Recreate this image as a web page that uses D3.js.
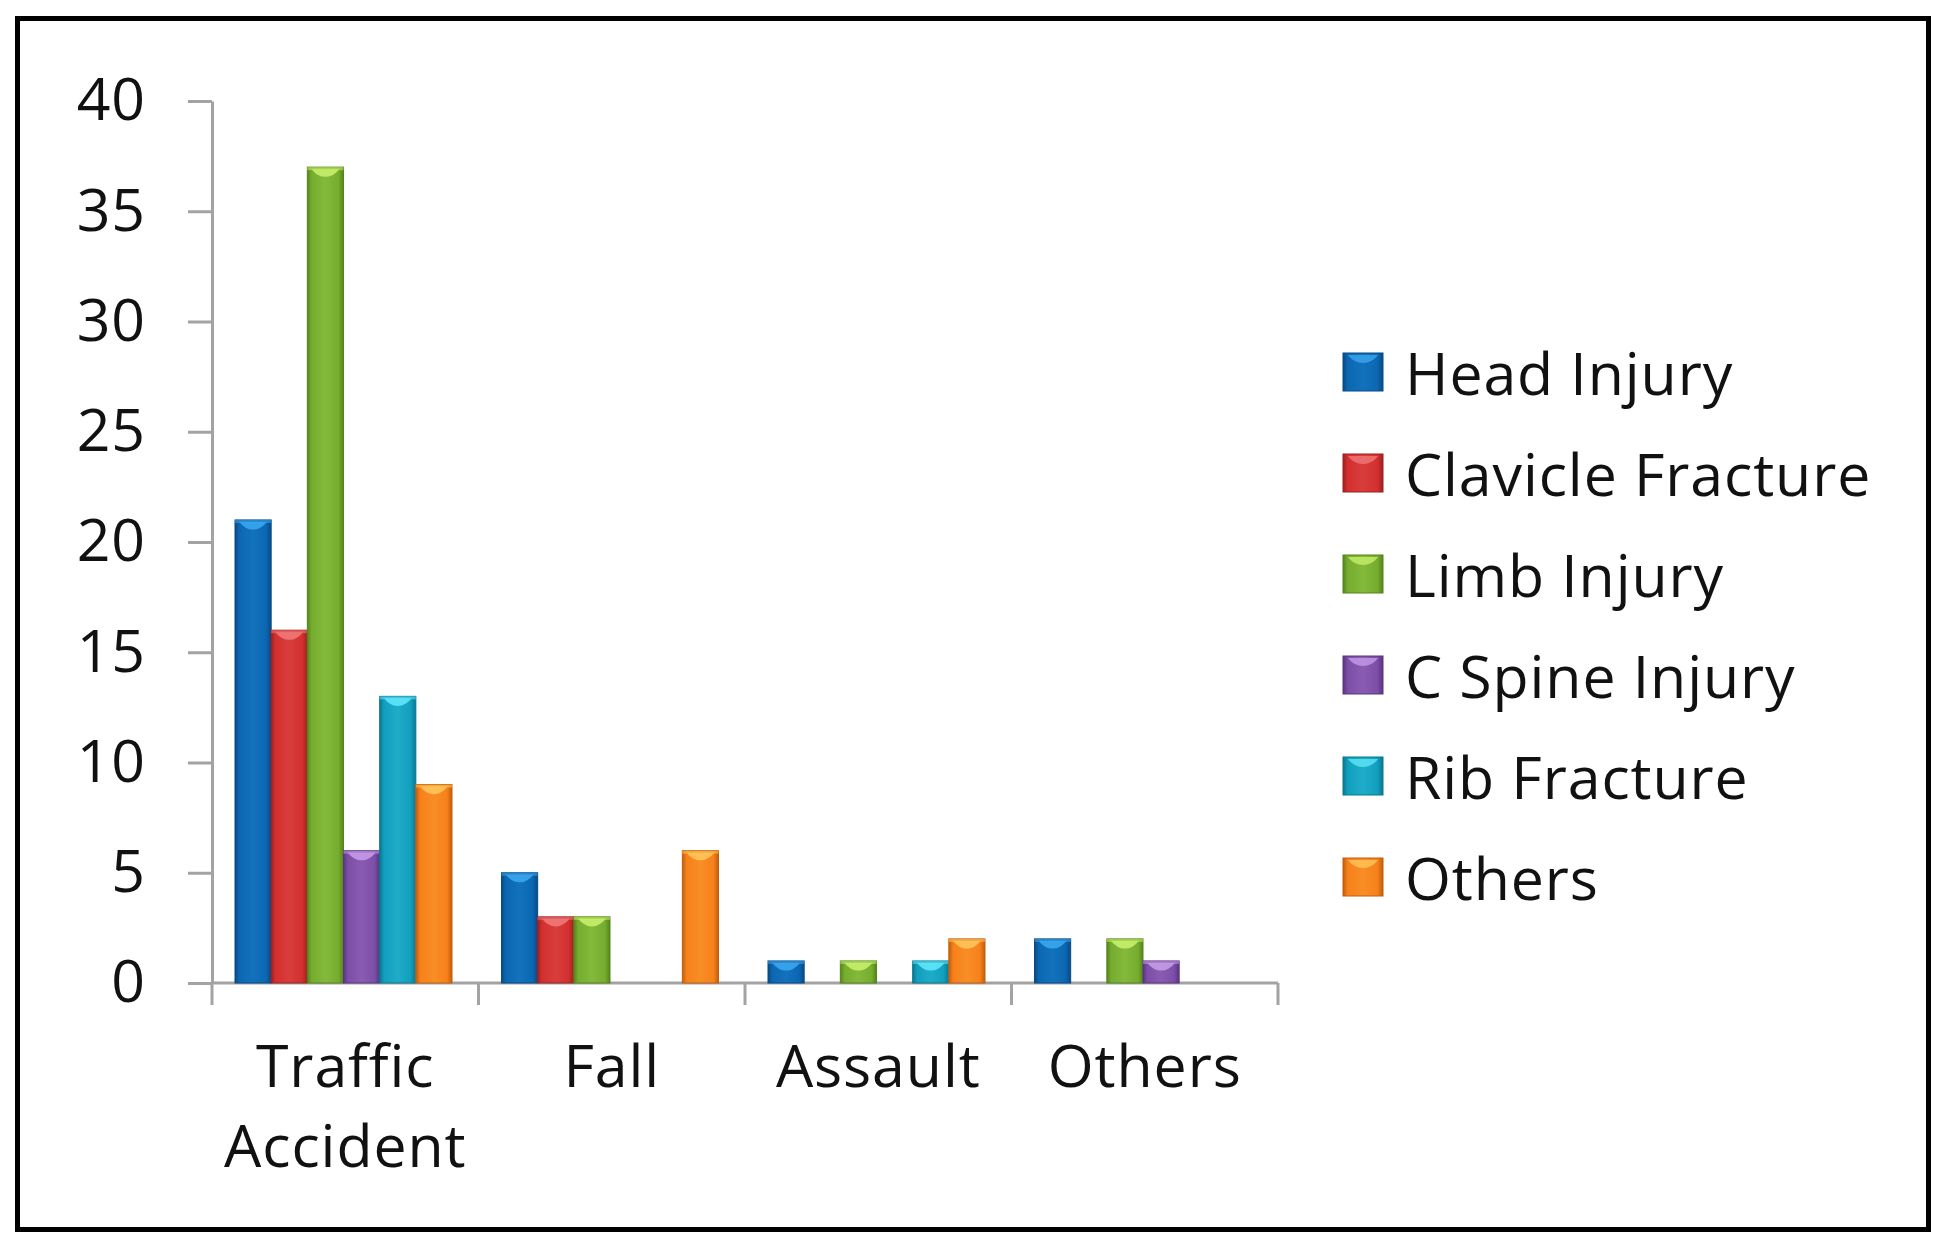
<!DOCTYPE html>
<html>
<head>
<meta charset="utf-8">
<script src="https://cdn.jsdelivr.net/npm/d3@7"></script>
<style>
  html, body { margin: 0; padding: 0; background: #ffffff; }
  svg { display: block; }
  text { font-family: "Open Sans", "Noto Sans", sans-serif; fill: #111111; }
</style>
</head>
<body>
<svg id="chart" width="1953" height="1246"></svg>
<script>
// ---- data ----
const categories = ["Traffic Accident", "Fall", "Assault", "Others"];
const categoryLines = [["Traffic", "Accident"], ["Fall"], ["Assault"], ["Others"]];
const seriesNames = ["Head Injury", "Clavicle Fracture", "Limb Injury", "C Spine Injury", "Rib Fracture", "Others"];
const headInjury       = [21, 5, 1, 2];
const clavicleFracture = [16, 3, 0, 0];
const limbInjury       = [37, 3, 1, 2];
const cSpineInjury     = [6, 0, 0, 1];
const ribFracture      = [13, 0, 1, 0];
const othersInjury     = [9, 6, 2, 0];
const seriesValues = [headInjury, clavicleFracture, limbInjury, cSpineInjury, ribFracture, othersInjury];
const yTicks = [0, 5, 10, 15, 20, 25, 30, 35, 40];

// ---- styles ----
const seriesColors = [
  { base: "#0b67b2", dark: "#094a84", light: "#3aa6ee" },
  { base: "#d3302f", dark: "#9e2020", light: "#f07878" },
  { base: "#76ad2f", dark: "#55841c", light: "#c6ef6a" },
  { base: "#7c4ea6", dark: "#5a3480", light: "#c49be8" },
  { base: "#119fbe", dark: "#0a7791", light: "#5fe6f8" },
  { base: "#f7811a", dark: "#c25e0c", light: "#ffc45a" }
];
const FONT_SIZE = 59;
const LETTER_SP = "0.9px";

const svg = d3.select("#chart");
const defs = svg.append("defs");
seriesColors.forEach((c, i) => {
  const g = defs.append("linearGradient").attr("id", "grad" + i)
    .attr("x1", "0%").attr("x2", "100%").attr("y1", "0%").attr("y2", "0%");
  g.append("stop").attr("offset", "0%").attr("stop-color", c.dark);
  g.append("stop").attr("offset", "12%").attr("stop-color", c.base);
  g.append("stop").attr("offset", "50%").attr("stop-color", d3.interpolateRgb(c.base, c.light)(0.18));
  g.append("stop").attr("offset", "86%").attr("stop-color", c.base);
  g.append("stop").attr("offset", "100%").attr("stop-color", c.dark);
});

// frame
svg.append("rect").attr("x", 17.5).attr("y", 18.5).attr("width", 1911).attr("height", 1211)
  .attr("fill", "none").attr("stroke", "#000").attr("stroke-width", 5);

// scales
const x0 = d3.scaleBand().domain(categories).range([212, 1278]).paddingInner(0).paddingOuter(0);
const x1 = d3.scaleBand().domain(seriesNames).range([23, 240]).padding(0);
const y = d3.scaleLinear().domain([0, 40]).range([983, 101]);

// y axis
const yAxis = svg.append("g").attr("transform", "translate(212,0)")
  .call(d3.axisLeft(y).tickValues(yTicks).tickSizeInner(24).tickSizeOuter(0).tickPadding(42));
yAxis.select(".domain").attr("stroke", "#a3a3a3").attr("stroke-width", 3);
yAxis.selectAll(".tick line").attr("stroke", "#a3a3a3").attr("stroke-width", 3);
yAxis.selectAll(".tick text").attr("font-size", FONT_SIZE).attr("fill", "#111111")
  .attr("letter-spacing", LETTER_SP)
  .attr("font-family", "'Open Sans', sans-serif");

// x axis
const xBoundaries = categories.map(c => x0(c)).concat([x0(categories[categories.length - 1]) + x0.bandwidth()]);
const xAxisG = svg.append("g");
xAxisG.append("line").attr("x1", 212).attr("x2", 1278).attr("y1", y(0)).attr("y2", y(0))
  .attr("stroke", "#a3a3a3").attr("stroke-width", 3);
xAxisG.selectAll("line.xt").data(xBoundaries).enter().append("line").attr("class", "xt")
  .attr("x1", d => d).attr("x2", d => d).attr("y1", y(0)).attr("y2", y(0) + 22)
  .attr("stroke", "#a3a3a3").attr("stroke-width", 3);

// category labels
const catG = svg.append("g");
categories.forEach((c, i) => {
  const t = catG.append("text").attr("x", x0(c) + x0.bandwidth() / 2).attr("y", 1087)
    .attr("text-anchor", "middle").attr("font-size", FONT_SIZE).attr("letter-spacing", LETTER_SP);
  categoryLines[i].forEach((line, j) => {
    t.append("tspan").attr("x", x0(c) + x0.bandwidth() / 2).attr("dy", j === 0 ? 0 : 80).text(line);
  });
});

// bars
function highlightPath(x, top, w) {
  const hh = Math.min(12, 6 + w * 0.1);
  return `M${x + w * 0.12},${top + 2} L${x + w * 0.88},${top + 2} ` +
         `Q${x + w * 0.72},${top + hh} ${x + w * 0.5},${top + hh} ` +
         `Q${x + w * 0.28},${top + hh} ${x + w * 0.12},${top + 2} Z`;
}

const barData = [];
categories.forEach((c, ci) => {
  seriesNames.forEach((s, si) => {
    const v = seriesValues[si][ci];
    if (v > 0) barData.push({ cat: c, series: s, si: si, value: v });
  });
});

const bars = svg.append("g").selectAll("g.bar").data(barData).enter().append("g").attr("class", "bar");
bars.append("rect")
  .attr("x", d => x0(d.cat) + x1(d.series))
  .attr("y", d => y(d.value))
  .attr("width", x1.bandwidth())
  .attr("height", d => y(0) - y(d.value))
  .attr("fill", d => `url(#grad${d.si})`)
  .attr("stroke", d => seriesColors[d.si].dark).attr("stroke-width", 1);
bars.append("rect")
  .attr("x", d => x0(d.cat) + x1(d.series))
  .attr("y", d => y(d.value))
  .attr("width", x1.bandwidth())
  .attr("height", 3)
  .attr("fill", d => seriesColors[d.si].light).attr("opacity", 0.55);
bars.append("path")
  .attr("d", d => highlightPath(x0(d.cat) + x1(d.series), y(d.value), x1.bandwidth()))
  .attr("fill", d => seriesColors[d.si].light).attr("opacity", 0.9);

// legend
const legendG = svg.append("g");
const legendRows = legendG.selectAll("g.lr").data(seriesNames).enter().append("g").attr("class", "lr")
  .attr("transform", (d, i) => `translate(1343, ${353 + i * 101})`);
legendRows.append("rect").attr("x", 0).attr("y", 0).attr("width", 40).attr("height", 38)
  .attr("fill", (d, i) => `url(#grad${i})`).attr("stroke", (d, i) => seriesColors[i].dark).attr("stroke-width", 1);
legendRows.append("path").attr("d", () => highlightPath(0, 0, 40))
  .attr("fill", (d, i) => seriesColors[i].light).attr("opacity", 0.8);
legendRows.append("text").attr("x", 62).attr("y", 42).attr("font-size", FONT_SIZE)
  .attr("letter-spacing", LETTER_SP).text(d => d);
</script>
</body>
</html>
